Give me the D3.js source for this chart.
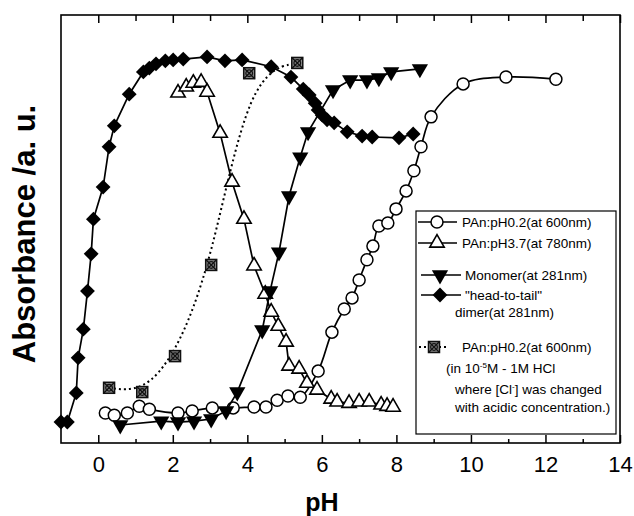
<!DOCTYPE html>
<html>
<head>
<meta charset="utf-8">
<script src="https://cdn.jsdelivr.net/npm/d3@7"></script>
<style>
  body { margin: 0; background: #fff; }
  text { font-family: "Liberation Sans", Arial, sans-serif; }
</style>
</head>
<body>
<div id="chart"></div>
<script>
// PAn:pH0.2 (at 600nm) - open circles
const circlePH = [0.19, 0.43, 0.78, 1.10, 1.37, 2.14, 2.52, 3.06, 3.62, 4.18, 4.50, 4.80, 5.09, 5.42, 5.90, 6.27, 6.60, 6.81, 7.00, 7.21, 7.37, 7.53, 7.77, 7.99, 8.26, 8.47, 8.66, 8.93, 9.79, 10.94, 12.28];
const circleAbs = [7.0, 6.5, 7.0, 8.6, 7.9, 7.0, 7.5, 8.2, 8.2, 8.4, 8.4, 10.0, 11.0, 10.7, 16.8, 25.9, 31.3, 33.9, 38.1, 42.8, 46.0, 50.7, 51.4, 54.7, 58.9, 63.6, 69.2, 76.2, 83.9, 85.5, 85.0];

// PAn:pH3.7 (at 780nm) - open triangles
const triPH = [2.14, 2.36, 2.55, 2.76, 2.92, 3.27, 3.59, 3.91, 4.18, 4.48, 4.64, 4.83, 5.04, 5.12, 5.39, 5.60, 5.87, 6.25, 6.41, 6.73, 7.00, 7.27, 7.59, 7.75, 7.91];
const triAbs = [81.8, 83.2, 84.1, 84.3, 82.0, 72.4, 61.0, 52.3, 41.4, 34.8, 30.6, 27.3, 23.6, 18.0, 17.3, 14.0, 12.4, 10.3, 9.6, 9.3, 9.6, 9.6, 8.9, 8.6, 8.4];

// Monomer (at 281nm) - filled down triangles
const monoPH = [0.59, 1.69, 2.14, 2.57, 3.03, 3.43, 3.73, 4.40, 4.61, 4.85, 5.12, 5.42, 5.63, 6.30, 6.76, 7.21, 7.53, 7.86, 8.63];
const monoAbs = [4.2, 5.1, 4.9, 5.1, 5.6, 7.5, 11.9, 26.4, 35.5, 44.6, 57.7, 66.8, 72.7, 82.5, 84.8, 84.8, 85.3, 86.7, 87.4];

// "head-to-tail" dimer (at 281nm) - filled diamonds
const dimerPH = [-1.0, -0.83, -0.59, -0.54, -0.40, -0.29, -0.19, -0.13, 0.13, 0.29, 0.43, 0.83, 1.21, 1.37, 1.55, 1.80, 2.01, 2.28, 2.92, 3.40, 3.86, 4.64, 5.17, 5.50, 5.66, 5.82, 5.90, 6.01, 6.14, 6.33, 6.68, 7.08, 7.35, 8.07, 8.45];
const dimerAbs = [4.9, 4.9, 11.7, 19.9, 26.6, 35.5, 44.2, 52.3, 59.8, 69.2, 74.1, 81.5, 86.7, 87.6, 88.6, 89.3, 89.5, 89.7, 90.2, 89.3, 89.5, 87.9, 85.5, 82.7, 81.3, 79.4, 77.8, 76.6, 75.5, 74.8, 72.7, 71.7, 71.5, 71.3, 72.2];

// PAn:pH0.2 (at 600nm) in HCl - crossed squares
const hclPH = [0.29, 1.18, 2.06, 3.03, 4.05, 5.34];
const hclAbs = [12.9, 11.9, 20.3, 41.6, 86.4, 88.8];

const majorTicks = [0, 2, 4, 6, 8, 10, 12, 14];
const minorTicks = [1, 3, 5, 7, 9, 11, 13];

const width = 634, height = 516;
const plotL = 61, plotR = 620, plotT = 15, plotB = 443;

const svg = d3.select("#chart").append("svg")
  .attr("width", width)
  .attr("height", height);

const x = d3.scaleLinear().domain([-1, 14]).range([plotL, plotR]);
const y = d3.scaleLinear().domain([0, 100]).range([plotB, plotT]);

const zip = (a, b) => a.map((v, i) => [v, b[i]]);

// frame
svg.append("rect")
  .attr("x", plotL).attr("y", plotT)
  .attr("width", plotR - plotL).attr("height", plotB - plotT)
  .attr("fill", "none").attr("stroke", "#000").attr("stroke-width", 1.6);

// bottom axis, ticks pointing inward
const bottomAxis = svg.append("g").attr("transform", `translate(0,${plotB})`);
bottomAxis.call(d3.axisBottom(x).tickValues(majorTicks).tickSize(-8).tickFormat(d3.format("d")));
bottomAxis.append("g").call(d3.axisBottom(x).tickValues(minorTicks).tickSize(-4).tickFormat(""));
bottomAxis.selectAll(".domain").remove();
bottomAxis.selectAll("line").attr("stroke", "#000").attr("stroke-width", 1.5);
bottomAxis.selectAll("text")
  .attr("y", 13)
  .attr("dy", "0.71em")
  .style("font-size", "22px")
  .attr("fill", "#000");

// top axis
const topAxis = svg.append("g").attr("transform", `translate(0,${plotT})`);
topAxis.call(d3.axisTop(x).tickValues(majorTicks).tickSize(-8).tickFormat(""));
topAxis.append("g").call(d3.axisTop(x).tickValues(minorTicks).tickSize(-6).tickFormat(""));
topAxis.selectAll(".domain").remove();
topAxis.selectAll("line").attr("stroke", "#000").attr("stroke-width", 1.5);

// axis titles
svg.append("text")
  .attr("x", 322).attr("y", 511)
  .attr("text-anchor", "middle")
  .style("font-size", "25px").style("font-weight", "bold")
  .text("pH");

svg.append("text")
  .attr("transform", "translate(35,234) rotate(-90)")
  .attr("text-anchor", "middle")
  .style("font-size", "31px").style("font-weight", "bold")
  .text("Absorbance /a. u.");

// marker helpers
const diamond = d3.symbol().type(d3.symbolSquare).size(110);
const triUp = d3.symbol().type(d3.symbolTriangle).size(90);
const triDown = d3.symbol().type(d3.symbolTriangle).size(115);

function drawCircle(g, cx, cy) {
  g.append("circle").attr("cx", cx).attr("cy", cy).attr("r", 6)
    .attr("fill", "#fff").attr("stroke", "#000").attr("stroke-width", 1.5);
}
function drawTriUp(g, cx, cy) {
  g.append("path").attr("d", triUp).attr("transform", `translate(${cx},${cy})`)
    .attr("fill", "#fff").attr("stroke", "#000").attr("stroke-width", 1.6);
}
function drawTriDown(g, cx, cy) {
  g.append("path").attr("d", triDown).attr("transform", `translate(${cx},${cy}) rotate(180)`)
    .attr("fill", "#000");
}
function drawDiamond(g, cx, cy) {
  g.append("path").attr("d", diamond).attr("transform", `translate(${cx},${cy}) rotate(45)`)
    .attr("fill", "#000");
}
function drawCrossSquare(g, cx, cy) {
  const s = 5.5;
  const m = g.append("g").attr("transform", `translate(${cx},${cy})`);
  m.append("rect").attr("x", -s).attr("y", -s).attr("width", 2 * s).attr("height", 2 * s)
    .attr("fill", "#8a8a8a").attr("stroke", "#111").attr("stroke-width", 1.5);
  m.append("path").attr("d", `M${-s},${-s}L${s},${s}M${s},${-s}L${-s},${s}`)
    .attr("stroke", "#111").attr("stroke-width", 1.4);
  m.append("circle").attr("r", 3.3).attr("fill", "none").attr("stroke", "#111").attr("stroke-width", 1.3);
}

const plot = svg.append("g");

function series(pts, curve, dash, drawMarker) {
  const line = d3.line().x(d => x(d[0])).y(d => y(d[1])).curve(curve);
  plot.append("path")
    .attr("d", line(pts))
    .attr("fill", "none")
    .attr("stroke", "#000")
    .attr("stroke-width", dash ? 2 : 1.7)
    .attr("stroke-dasharray", dash || null);
  const mg = plot.append("g");
  pts.forEach(d => drawMarker(mg, x(d[0]), y(d[1])));
}

series(zip(hclPH, hclAbs), d3.curveBasis, "2,3", drawCrossSquare);
series(zip(circlePH, circleAbs), d3.curveCatmullRom, null, drawCircle);
series(zip(triPH, triAbs), d3.curveLinear, null, drawTriUp);
series(zip(monoPH, monoAbs), d3.curveLinear, null, drawTriDown);
series(zip(dimerPH, dimerAbs), d3.curveLinear, null, drawDiamond);

// legend
const legend = svg.append("g");
legend.append("rect")
  .attr("x", 416).attr("y", 211).attr("width", 200).attr("height", 223)
  .attr("fill", "#fff").attr("stroke", "#000").attr("stroke-width", 1.2);

const fs = "13.5px";
function legendRow(yy, x1, x2, mx, dash, drawMarker, tx, label) {
  legend.append("line")
    .attr("x1", x1).attr("x2", x2).attr("y1", yy).attr("y2", yy)
    .attr("stroke", "#000").attr("stroke-width", dash ? 2 : 1.7)
    .attr("stroke-dasharray", dash || null);
  drawMarker(legend, mx, yy);
  legend.append("text").attr("x", tx).attr("y", yy).attr("dy", "0.35em")
    .style("font-size", fs).text(label);
}

legendRow(222, 418, 457, 437, null, drawCircle, 462, "PAn:pH0.2(at 600nm)");
legendRow(243, 418, 457, 437, null, drawTriUp, 462, "PAn:pH3.7(at 780nm)");
legendRow(275, 421, 461, 440, null, drawTriDown, 465, "Monomer(at 281nm)");
legendRow(295, 421, 461, 440, null, drawDiamond, 465, "\"head-to-tail\"");
legend.append("text").attr("x", 455).attr("y", 312).attr("dy", "0.35em")
  .style("font-size", fs).text("dimer(at 281nm)");
legendRow(347, 419, 449, 434, "2,3", drawCrossSquare, 462, "PAn:pH0.2(at 600nm)");

const t1 = legend.append("text").attr("x", 446).attr("y", 368).attr("dy", "0.35em").style("font-size", fs);
t1.append("tspan").text("(in 10");
t1.append("tspan").attr("dy", "-5").style("font-size", "8px").text("-5");
t1.append("tspan").attr("dy", "5").text("M - 1M HCl");

const t2 = legend.append("text").attr("x", 455).attr("y", 389).attr("dy", "0.35em").style("font-size", fs);
t2.append("tspan").text("where [Cl");
t2.append("tspan").attr("dy", "-5").style("font-size", "8px").text("-");
t2.append("tspan").attr("dy", "5").text("] was changed");

legend.append("text").attr("x", 455).attr("y", 407).attr("dy", "0.35em")
  .style("font-size", fs).text("with acidic concentration.)");
</script>
</body>
</html>
